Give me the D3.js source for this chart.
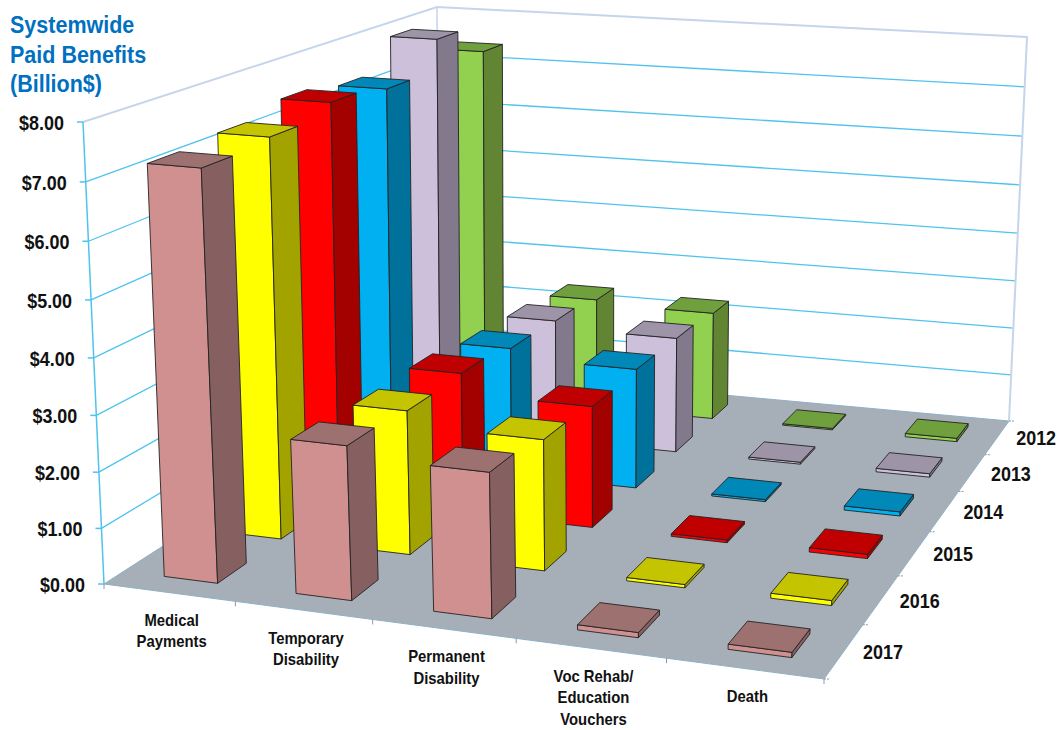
<!DOCTYPE html>
<html>
<head>
<meta charset="utf-8">
<script src="https://d3js.org/d3.v7.min.js"></script>
<style>
body { margin: 0; background: #fff; }
text { font-family: "Liberation Sans", Arial, sans-serif; font-weight: bold; fill: #111; }
</style>
</head>
<body>
<div id="chart"></div>
<script>
// values in billion $, one entry per year
let years = ["2012", "2013", "2014", "2015", "2016", "2017"];
let categories = ["Medical Payments", "Temporary Disability", "Permanent Disability", "Voc Rehab/ Education Vouchers", "Death"];
let medical = [7.39, 7.98, 7.38, 7.52, 7.32, 7.24];
let temporary = [2.34, 2.48, 2.53, 2.68, 2.65, 2.73];
let permanent = [2.26, 2.34, 2.35, 2.3, 2.39, 2.55];
let vocRehab = [0.03, 0.04, 0.04, 0.05, 0.06, 0.09];
let death = [0.07, 0.07, 0.08, 0.08, 0.09, 0.09];
let yTicks = [0, 1, 2, 3, 4, 5, 6, 7, 8];
let categoryLines = [["Medical", "Payments"], ["Temporary", "Disability"], ["Permanent", "Disability"], ["Voc Rehab/", "Education", "Vouchers"], ["Death"]];
let titleLines = ["Systemwide", "Paid Benefits", "(Billion$)"];

let seriesColors = {
    "2012": {front: "#92D050", top: "#70A03E", side: "#618533"},
    "2013": {front: "#CCC0DA", top: "#9D94A8", side: "#83798C"},
    "2014": {front: "#00B0F0", top: "#0088B8", side: "#00719A"},
    "2015": {front: "#FF0000", top: "#C00000", side: "#A30000"},
    "2016": {front: "#FFFF00", top: "#C4C400", side: "#A3A300"},
    "2017": {front: "#D09090", top: "#9E7171", side: "#866060"}
};

let w = 1059;
let h = 730;

let svg = d3.select("#chart")
    .append("svg")
    .attr("width", w)
    .attr("height", h);

// gaussian elimination, used to fit the perspective below
function solve(A, b) {
    let n = b.length;
    let M = A.map(function (row, i) { return row.concat([b[i]]); });
    for (let i = 0; i < n; i++) {
        let p = i;
        for (let r = i + 1; r < n; r++) if (Math.abs(M[r][i]) > Math.abs(M[p][i])) p = r;
        let tmp = M[i]; M[i] = M[p]; M[p] = tmp;
        for (let r = 0; r < n; r++) {
            if (r === i) continue;
            let f = M[r][i] / M[i][i];
            for (let c = i; c <= n; c++) M[r][c] -= f * M[i][c];
        }
    }
    return M.map(function (row, i) { return row[n] / row[i]; });
}

// homography of the unit square onto four corners [u, v, x, y]
function fitPlane(corners) {
    let A8 = [], b8 = [];
    corners.forEach(function (c) {
        A8.push([c[0], c[1], 1, 0, 0, 0, -c[2] * c[0], -c[2] * c[1]]); b8.push(c[2]);
        A8.push([0, 0, 0, c[0], c[1], 1, -c[3] * c[0], -c[3] * c[1]]); b8.push(c[3]);
    });
    let H = solve(A8, b8);
    return function (u, v) {
        let d = H[6] * u + H[7] * v + 1;
        return [(H[0] * u + H[1] * v + H[2]) / d, (H[3] * u + H[4] * v + H[5]) / d];
    };
}

// box corners as seen in the picture, the front right top one is inferred
let floorPlane = fitPlane([[0, 0, 104, 584], [1, 0, 824, 679], [1, 1, 1009, 421], [0, 1, 438, 369]]);
let topPlane = fitPlane([[0, 0, 83, 122], [1, 0, 846, 185], [1, 1, 1027, 37], [0, 1, 437, 7]]);
let rise = -0.042;

function project(u, v, t) {
    let f = floorPlane(u, v), g = topPlane(u, v);
    let s = t * (1 + rise) / (1 + rise * t);
    return [f[0] + (g[0] - f[0]) * s, f[1] + (g[1] - f[1]) * s];
}

let xScale = d3.scaleBand().domain(categories).range([0.004, 1.004]).paddingInner(0.59).paddingOuter(0.295);
let zScale = d3.scaleBand().domain(years.slice().reverse()).range([0, 1]).paddingInner(0.56).paddingOuter(0.28);
let yScale = d3.scaleLinear().domain([0, 8]).range([0, 1]);

let line = d3.line();
function poly(points) { return line(points) + "Z"; }

// squeeze real text a little, the original labels are set condensed
function condense(selection, k) {
    selection.each(function () {
        d3.select(this)
            .attr("textLength", this.getComputedTextLength() * k)
            .attr("lengthAdjust", "spacingAndGlyphs");
    });
}

// floor and wall frame
svg.append("path")
    .attr("d", poly([project(0, 0, 0), project(1, 0, 0), project(1, 1, 0), project(0, 1, 0)]))
    .attr("fill", "#A6AFB8")
    .attr("stroke", "#8DB0C6")
    .attr("stroke-width", 1);

// gridlines on the two walls
svg.selectAll("path.grid")
    .data(yTicks.slice(1, -1))
    .enter()
    .append("path")
    .attr("class", "grid")
    .attr("d", function (d) {
        let t = yScale(d);
        return line([project(0, 0, t), project(0, 1, t), project(1, 1, t)]);
    })
    .attr("fill", "none")
    .attr("stroke", "#4FC3EE")
    .attr("stroke-width", 1.3);

let frameColor = "#C5D5EA";
svg.append("path")
    .attr("d", line([project(0, 0, 1), project(0, 1, 1), project(1, 1, 1), project(1, 1, 0)]))
    .attr("fill", "none")
    .attr("stroke", frameColor)
    .attr("stroke-width", 2);
svg.append("path")
    .attr("d", line([project(0, 1, 1), project(0, 1, 0)]))
    .attr("stroke", frameColor)
    .attr("stroke-width", 1.5);

// value axis
svg.append("path")
    .attr("d", line([project(0, 0, 0), project(0, 0, 1)]))
    .attr("stroke", "#4FC3EE")
    .attr("stroke-width", 1.5);

svg.selectAll("line.ytick")
    .data(yTicks)
    .enter()
    .append("line")
    .attr("class", "ytick")
    .attr("x1", function (d) { return project(0, 0, yScale(d))[0] - 6; })
    .attr("x2", function (d) { return project(0, 0, yScale(d))[0]; })
    .attr("y1", function (d) { return project(0, 0, yScale(d))[1]; })
    .attr("y2", function (d) { return project(0, 0, yScale(d))[1]; })
    .attr("stroke", "#4FC3EE")
    .attr("stroke-width", 1.5);

svg.selectAll("text.ylabel")
    .data(yTicks)
    .enter()
    .append("text")
    .attr("class", "ylabel")
    .text(function (d) { return "$" + d3.format(".2f")(d); })
    .attr("x", function (d) { return project(0, 0, yScale(d))[0] - 19; })
    .attr("y", function (d) { return project(0, 0, yScale(d))[1] + 8; })
    .attr("text-anchor", "end")
    .attr("font-size", "19.5px")
    .call(condense, 0.92);

// ticks along the floor edges
let step = 1 / categories.length;
svg.selectAll("line.xtick")
    .data(d3.range(categories.length + 1))
    .enter()
    .append("line")
    .attr("class", "xtick")
    .attr("x1", function (d) { return project(d * step, 0, 0)[0]; })
    .attr("x2", function (d) { return project(d * step, 0, 0)[0]; })
    .attr("y1", function (d) { return project(d * step, 0, 0)[1]; })
    .attr("y2", function (d) { return project(d * step, 0, 0)[1] + 5; })
    .attr("stroke", "#999");

let zstep = 1 / years.length;
svg.selectAll("line.ztick")
    .data(d3.range(years.length + 1))
    .enter()
    .append("line")
    .attr("class", "ztick")
    .attr("x1", function (d) { return project(1, d * zstep, 0)[0]; })
    .attr("x2", function (d) { return project(1, d * zstep, 0)[0] + 6; })
    .attr("y1", function (d) { return project(1, d * zstep, 0)[1]; })
    .attr("y2", function (d) { return project(1, d * zstep, 0)[1]; })
    .attr("stroke", "#999")
    .attr("stroke-dasharray", "2,1");

// bars, painted from the back row forward and left to right
let seriesByCategory = [medical, temporary, permanent, vocRehab, death];
let bars = [];
years.forEach(function (year, yi) {
    categories.forEach(function (cat, ci) {
        bars.push({year: year, category: cat, value: seriesByCategory[ci][yi]});
    });
});

let groups = svg.selectAll("g.bar")
    .data(bars)
    .enter()
    .append("g")
    .attr("class", "bar")
    .attr("stroke", "#222")
    .attr("stroke-width", 0.9)
    .attr("stroke-linejoin", "round");

function barCorners(d) {
    let u0 = xScale(d.category), u1 = u0 + xScale.bandwidth();
    let v0 = zScale(d.year), v1 = v0 + zScale.bandwidth();
    let t = yScale(d.value);
    return {u0: u0, u1: u1, v0: v0, v1: v1, t: t};
}

groups.append("path")
    .attr("d", function (d) {
        let b = barCorners(d);
        return poly([project(b.u0, b.v0, 0), project(b.u1, b.v0, 0), project(b.u1, b.v0, b.t), project(b.u0, b.v0, b.t)]);
    })
    .attr("fill", function (d) { return seriesColors[d.year].front; });

groups.append("path")
    .attr("d", function (d) {
        let b = barCorners(d);
        return poly([project(b.u1, b.v0, 0), project(b.u1, b.v1, 0), project(b.u1, b.v1, b.t), project(b.u1, b.v0, b.t)]);
    })
    .attr("fill", function (d) { return seriesColors[d.year].side; });

groups.append("path")
    .attr("d", function (d) {
        let b = barCorners(d);
        return poly([project(b.u0, b.v0, b.t), project(b.u1, b.v0, b.t), project(b.u1, b.v1, b.t), project(b.u0, b.v1, b.t)]);
    })
    .attr("fill", function (d) { return seriesColors[d.year].top; });

// category labels under the front edge
categories.forEach(function (cat, ci) {
    let c = project(xScale(cat) + xScale.bandwidth() / 2, 0, 0);
    svg.selectAll(null)
        .data(categoryLines[ci])
        .enter()
        .append("text")
        .text(function (d) { return d; })
        .attr("x", c[0])
        .attr("y", function (d, i) { return c[1] + 33 + i * 21.5; })
        .attr("text-anchor", "middle")
        .attr("font-size", "16.5px")
        .call(condense, 0.9);
});

// year labels along the right edge
svg.selectAll("text.zlabel")
    .data(years)
    .enter()
    .append("text")
    .attr("class", "zlabel")
    .text(function (d) { return d; })
    .attr("x", function (d) { return project(1, zScale(d) + zScale.bandwidth() / 2, 0)[0] + 19; })
    .attr("y", function (d) { return project(1, zScale(d) + zScale.bandwidth() / 2, 0)[1] + 8; })
    .attr("font-size", "19.5px")
    .call(condense, 0.92);

svg.selectAll("text.title")
    .data(titleLines)
    .enter()
    .append("text")
    .attr("class", "title")
    .text(function (d) { return d; })
    .attr("x", 10)
    .attr("y", function (d, i) { return 33 + i * 29.5; })
    .attr("font-size", "23.5px")
    .style("fill", "#0070C0")
    .call(condense, 0.915);
</script>
</body>
</html>
